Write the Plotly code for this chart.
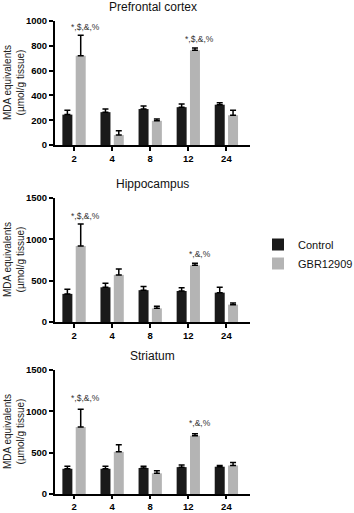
import plotly.graph_objects as go

times = ["2", "4", "8", "12", "24"]

pfc_control = [245, 265, 290, 305, 325]
pfc_control_err = [35, 25, 25, 25, 15]
pfc_gbr = [720, 80, 195, 765, 240]
pfc_gbr_err = [165, 35, 15, 18, 40]

hip_control = [340, 420, 385, 375, 355]
hip_control_err = [55, 50, 45, 40, 65]
hip_gbr = [920, 570, 165, 685, 210]
hip_gbr_err = [265, 70, 25, 25, 20]

str_control = [305, 305, 315, 325, 330]
str_control_err = [30, 30, 20, 25, 15]
str_gbr = [810, 510, 250, 705, 345]
str_gbr_err = [215, 85, 30, 25, 35]

panel_titles = ["Prefrontal cortex", "Hippocampus", "Striatum"]
y_ranges = [[0, 1000], [0, 1500], [0, 1500]]
y_dticks = [200, 500, 500]
# significance labels: (category index, label, y value)
sig = [
    [(0, "*,$,&,%", 952), (3, "*,$,&,%", 858)],
    [(0, "*,$,&,%", 1288), (3, "*,&,%", 820)],
    [(0, "*,$,&,%", 1159), (3, "*,&,%", 858)],
]

CTRL_COLOR = "#1a1a1a"
GBR_COLOR = "#b4b4b4"
H = 513
# pixel positions (top, bottom) of each plot area
px = [(21, 145), (198, 322), (370, 494)]
domains = [[1 - b / H, 1 - t / H] for t, b in px]

data = [
    (pfc_control, pfc_control_err, pfc_gbr, pfc_gbr_err),
    (hip_control, hip_control_err, hip_gbr, hip_gbr_err),
    (str_control, str_control_err, str_gbr, str_gbr_err),
]

fig = go.Figure()
annotations = []
for i, (c, ce, g, ge) in enumerate(data):
    sfx = "" if i == 0 else str(i + 1)
    fig.add_trace(go.Bar(
        x=times, y=c, name="Control", marker=dict(color=CTRL_COLOR, line=dict(width=0)),
        error_y=dict(type="data", array=ce, arrayminus=[0] * 5, symmetric=False,
                     color="black", thickness=1.5, width=3),
        xaxis="x" + sfx, yaxis="y" + sfx, showlegend=(i == 0), legendgroup="c",
    ))
    fig.add_trace(go.Bar(
        x=times, y=g, name="GBR12909", marker=dict(color=GBR_COLOR, line=dict(width=0)),
        error_y=dict(type="data", array=ge, arrayminus=[0] * 5, symmetric=False,
                     color="black", thickness=1.5, width=3),
        xaxis="x" + sfx, yaxis="y" + sfx, showlegend=(i == 0), legendgroup="g",
    ))
    axis_common = dict(showline=True, linecolor="black", linewidth=2, ticks="outside",
                       tickcolor="black", tickwidth=1.5, ticklen=4, showgrid=False,
                       zeroline=False, automargin=False,
                       tickfont=dict(family="Liberation Sans, Arial", size=9.5, color="black",
                                     weight="bold"))
    fig.update_layout(**{
        "xaxis" + sfx: dict(axis_common, domain=[0, 1], anchor="y" + sfx,
                            type="category", range=[-0.5, 4.62],
                            ticklen=(3 if i == 2 else 4)),
        "yaxis" + sfx: dict(axis_common, domain=domains[i], anchor="x" + sfx,
                            range=y_ranges[i], dtick=y_dticks[i]),
    })
    t, b = px[i]
    annotations.append(dict(text=panel_titles[i], xref="paper", yref="paper",
                            x=0.5, y=1 - (t - 14) / H, xanchor="center", yanchor="middle",
                            showarrow=False,
                            font=dict(family="Liberation Sans, Arial", size=12, color="#111")))
    annotations.append(dict(text="MDA equivalents<br>(µmol/g tissue)", xref="paper", yref="paper",
                            x=-0.21, y=1 - (t + b) / 2 / H, xanchor="center", yanchor="middle",
                            textangle=-90, showarrow=False,
                            font=dict(family="Liberation Sans, Arial", size=10, color="#222")))
    for idx, lab, yv in sig[i]:
        annotations.append(dict(text=lab, xref="x" + sfx, yref="y" + sfx,
                                x=idx + 0.3, y=yv, xanchor="center", yanchor="middle",
                                showarrow=False,
                                font=dict(family="Liberation Sans, Arial", size=8.5, color="#333")))

fig.update_layout(
    width=354, height=H,
    margin=dict(l=55, r=104, t=0, b=0, autoexpand=False),
    barmode="group", bargap=0.3, bargroupgap=0.25,
    paper_bgcolor="white", plot_bgcolor="white",
    annotations=annotations,
    legend=dict(x=1.041, y=1 - 254 / H, xanchor="left", yanchor="middle",
                font=dict(family="Liberation Sans, Arial", size=11, color="#111"),
                itemwidth=30, tracegroupgap=0, bgcolor="rgba(0,0,0,0)"),
)

fig.write_html("out.html")
